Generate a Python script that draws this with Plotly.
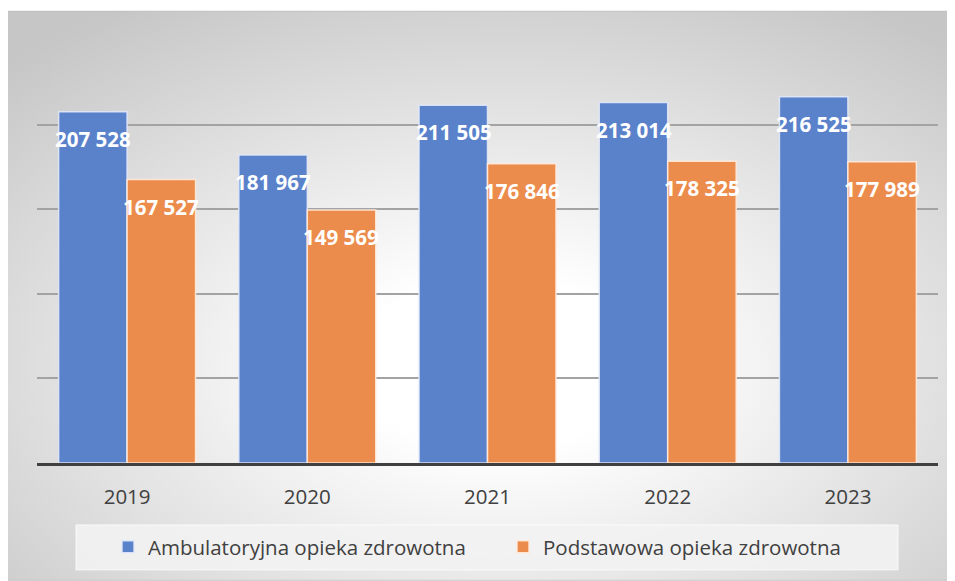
import base64
import plotly.graph_objects as go

# ---- data ----
years = ["2019", "2020", "2021", "2022", "2023"]
ambulatoryjna = [207528, 181967, 211505, 213014, 216525]
podstawowa = [167527, 149569, 176846, 178325, 177989]
series_names = ["Ambulatoryjna opieka zdrowotna", "Podstawowa opieka zdrowotna"]

# ---- style / layout constants (reference pixels; page body has 8px margin) ----
OFF = 8
W, H = 955 - OFF, 581 - OFF
PL, PR, PT, PB = 37, 938, 39.5, 463          # plot area in reference pixels
ML, MR, MT, MB = PL - OFF, (955 - PR), PT - OFF, (581 - PB)
PW, PH = W - ML - MR, H - MT - MB
BLUE = "#5A82CB"
ORANGE = "#EC8C4C"
FONT = "Open Sans"
TXT = "#404040"


def px_x(p):
    return (p - OFF - ML) / PW


def px_y(p):
    return (H - MB - (p - OFF)) / PH


# radial gradient background as an SVG image
svg = f"""<svg xmlns='http://www.w3.org/2000/svg' width='949' height='571' viewBox='0 0 949 571' preserveAspectRatio='none'>
<defs><radialGradient id='g' cx='0.52' cy='0.62' r='0.74'>
<stop offset='0' stop-color='#ffffff'/>
<stop offset='0.2' stop-color='#ffffff'/>
<stop offset='1' stop-color='#c6c6c6'/>
</radialGradient></defs>
<rect x='0.5' y='0.5' width='948' height='570' fill='url(#g)' stroke='#bdbdbd' stroke-width='1'/>
</svg>"""
svg_uri = "data:image/svg+xml;base64," + base64.b64encode(svg.encode()).decode()

fig = go.Figure()
fig.add_bar(x=years, y=ambulatoryjna, name=series_names[0],
            marker=dict(color=BLUE, line=dict(color="rgba(225,232,250,0.9)", width=1.5)))
fig.add_bar(x=years, y=podstawowa, name=series_names[1],
            marker=dict(color=ORANGE, line=dict(color="rgba(255,235,220,0.9)", width=1.5)))

annotations = []
for vals, shift in ((ambulatoryjna, -34), (podstawowa, 34)):
    for i, v in enumerate(vals):
        annotations.append(dict(
            x=i, y=v, xref="x", yref="y", xshift=shift, yshift=-27,
            text=f"{v:,}".replace(",", " "), showarrow=False,
            xanchor="center", yanchor="middle",
            font=dict(family=FONT, size=20.5, color="white", weight=700)))

fig.update_layout(
    width=W, height=H,
    margin=dict(l=ML, r=MR, t=MT, b=MB, pad=0),
    paper_bgcolor="white",
    plot_bgcolor="rgba(0,0,0,0)",
    barmode="group", bargap=0.24, bargroupgap=0,
    font=dict(family=FONT, color=TXT, size=20.5),
    showlegend=True,
    legend=dict(orientation="h", x=px_x(503), xanchor="center",
                y=px_y(547), yanchor="middle",
                bgcolor="rgba(0,0,0,0)", entrywidth=350,
                font=dict(family=FONT, size=20.5, color=TXT)),
    images=[dict(source=svg_uri, xref="paper", yref="paper",
                 x=px_x(6), y=px_y(10), sizex=949 / PW, sizey=571 / PH,
                 xanchor="left", yanchor="top", sizing="stretch", layer="below")],
    shapes=[dict(type="rect", xref="paper", yref="paper",
                 x0=px_x(76), x1=px_x(898), y0=px_y(570), y1=px_y(525),
                 fillcolor="rgba(242,242,242,0.9)",
                 line=dict(color="rgba(255,255,255,0.8)", width=1), layer="below")],
    annotations=annotations,
)
fig.update_xaxes(type="category", range=[-0.5, len(years) - 0.5],
                 showline=True, linecolor="#404040", linewidth=3,
                 ticks="", ticklabelstandoff=13,
                 tickfont=dict(family=FONT, size=20.5, color=TXT),
                 showgrid=False)
fig.update_yaxes(range=[0, 250000], dtick=50000, tick0=0,
                 showticklabels=False, showgrid=True,
                 gridcolor="#a3a3a3", gridwidth=1.5, zeroline=False)

fig.write_html("out.html")
